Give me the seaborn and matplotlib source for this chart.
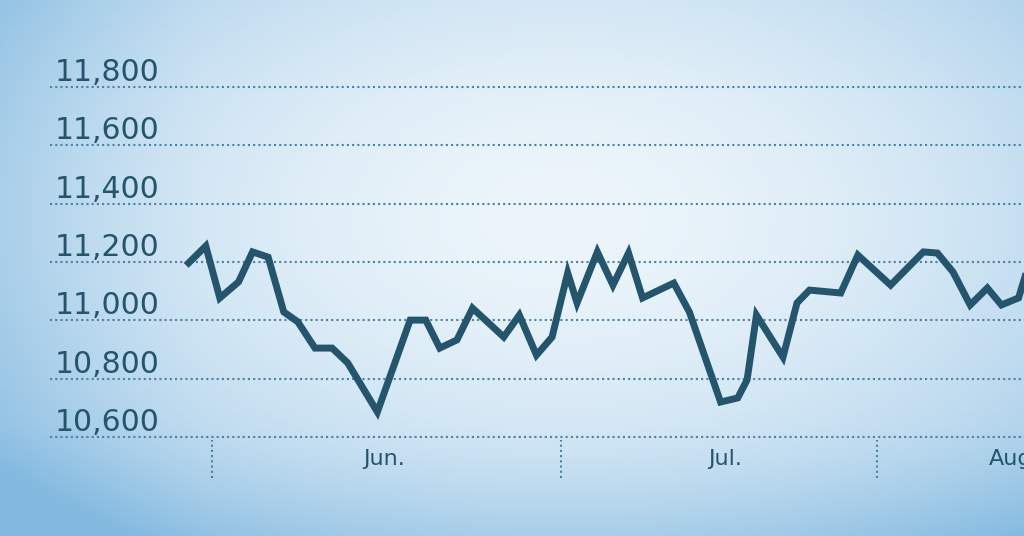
import numpy as np
import pandas as pd
import matplotlib.pyplot as plt
import seaborn as sns

# 指数走势 (trading-session position, index level)
session = [-1.5, -0.4, 0.5, 1.7, 2.6, 3.6, 4.6, 5.5, 6.6, 7.7, 8.7, 10.6,
           12.7, 13.7, 14.6, 15.7, 16.7, 18.7, 19.7, 20.8, 21.8, 22.8, 23.4,
           24.7, 25.7, 26.7, 27.6, 29.6, 30.6, 32.6, 33.7, 34.3, 34.9, 36.6,
           37.5, 38.3, 40.3, 41.4, 43.5, 45.6, 46.5, 47.5, 48.6, 49.7, 50.6,
           51.7, 52.4]
level = [11197, 11255, 11077, 11132, 11235, 11217, 11029, 10995, 10905, 10905,
         10854, 10686, 11001, 11001, 10905, 10933, 11042, 10943, 11018, 10881,
         10943, 11163, 11060, 11235, 11121, 11231, 11077, 11128, 11029, 10720,
         10734, 10796, 11018, 10874, 11060, 11104, 11094, 11224, 11121, 11235,
         11231, 11166, 11053, 11111, 11053, 11077, 11200]

y_ticks = [10600, 10800, 11000, 11200, 11400, 11600, 11800]
month_edges = [0, 22.4, 42.6]
month_names = ['Jun.', 'Jul.', 'Aug.']
month_centers = [11.0, 32.9, 51.4]

df = pd.DataFrame({'session': session, 'level': level})

ink = '#24556d'
grid_ink = '#4a82a6'

fig = plt.figure(figsize=(10.24, 5.36), dpi=100)
ax = fig.add_axes([0, 0, 1, 1])
x0, x1 = -13.59, 52.05
y0, y1 = 10260.4, 12099.1
ax.set_xlim(x0, x1)
ax.set_ylim(y0, y1)
ax.axis('off')

# 纸面背景：中间发白，左侧和底部偏蓝
gx, gy = np.meshgrid(np.linspace(0, 1, 256), np.linspace(0, 1, 140))
r = np.sqrt(((gx - 0.55) / 0.8) ** 2 + ((gy - 0.6) / 0.9) ** 2)
r = np.clip(r + 0.45 * np.clip(0.2 - gx, 0, None) + 0.6 * np.clip(0.2 - gy, 0, None), 0, 1)
c_mid = np.array([236, 245, 251]) / 255
c_edge = np.array([132, 186, 224]) / 255
bg = c_mid + (c_edge - c_mid) * (r[..., None] ** 1.8)
ax.imshow(bg, extent=[x0, x1, y0, y1], origin='lower', aspect='auto', zorder=0)

# 虚线网格与刻度文字
for v in y_ticks:
    ax.hlines(v, -10.4, x1, colors=grid_ink, linestyles=(0, (1, 1.5)), linewidth=1.5, zorder=1)
    ax.text(-10.1, v + 50, f'{v:,}', color=ink, fontsize=21.5, va='center', ha='left',
            family='DejaVu Sans', zorder=2)

for e in month_edges:
    ax.vlines(e, 10460, 10590, colors=grid_ink, linestyles=(0, (1, 1.5)), linewidth=1.5, zorder=1)
for c, name in zip(month_centers, month_names):
    ax.text(c, 10523, name, color=ink, fontsize=16, va='center', ha='center',
            family='DejaVu Sans', zorder=2)

sns.lineplot(data=df, x='session', y='level', ax=ax, color=ink, linewidth=5,
             solid_joinstyle='miter', zorder=3)
ax.set_xlim(x0, x1)
ax.set_ylim(y0, y1)
ax.axis('off')

fig.savefig('out.png', dpi=100)
